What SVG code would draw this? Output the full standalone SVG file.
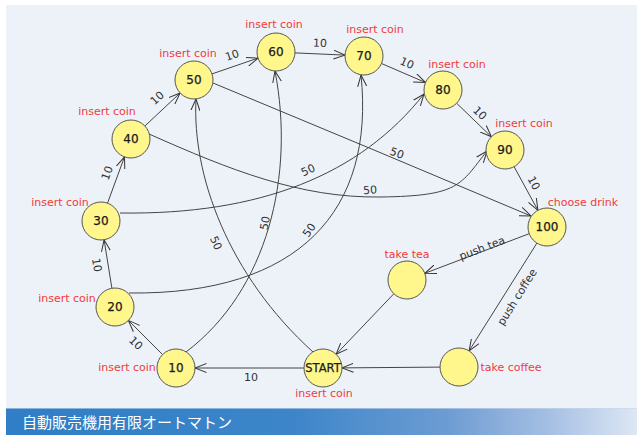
<svg xmlns="http://www.w3.org/2000/svg" width="637" height="435" viewBox="0 0 637 435">
  <defs>
    <linearGradient id="bar" x1="0" y1="0" x2="1" y2="0">
      <stop offset="0" stop-color="#2f7ec6"/>
      <stop offset="0.45" stop-color="#3c85c9"/>
      <stop offset="0.7" stop-color="#6d9cd3"/>
      <stop offset="0.86" stop-color="#a5bfe3"/>
      <stop offset="1" stop-color="#dde7f4"/>
    </linearGradient>
    <marker id="arr" markerUnits="userSpaceOnUse" viewBox="0 0 12 10" refX="11.5" refY="5" markerWidth="12" markerHeight="10" orient="auto">
      <path d="M0,0.5 L11.5,5 L0,9.5" fill="none" stroke="#333" stroke-width="1"/>
    </marker>
    <style>
      .node circle { fill: #fff78c; stroke: #555; stroke-width: 1; }
      .num { font-family: "DejaVu Sans", "Liberation Sans", sans-serif; font-size: 12px; fill: #1a1a1a; stroke: #1a1a1a; stroke-width: 0.25; text-anchor: middle; }
      .st { font-family: "DejaVu Sans", "Liberation Sans", sans-serif; font-size: 11.5px; fill: #1a1a1a; stroke: #1a1a1a; stroke-width: 0.25; text-anchor: middle; }
      .red { font-family: "DejaVu Sans", "Liberation Sans", sans-serif; font-size: 11px; fill: #f23a3a; text-anchor: middle; }
      .edge { fill: none; stroke: #444; stroke-width: 1; marker-end: url(#arr); }
      .lbl { font-family: "DejaVu Sans", "Liberation Sans", sans-serif; font-size: 11px; fill: #333; text-anchor: middle; }
      .title { font-family: "Noto Sans CJK JP", "Noto Sans CJK SC", sans-serif; font-size: 15px; fill: #ffffff; }
    </style>
  </defs>
  <rect x="0" y="0" width="637" height="435" fill="#ffffff"/>
  <rect x="6" y="5" width="631" height="403" fill="#edf2f9"/>
  <rect x="6" y="408" width="631" height="27" fill="url(#bar)"/>
  <rect x="6" y="408" width="631" height="1" fill="#c8d7ea" opacity="0.6"/>
  <text class="title" x="22" y="428">自動販売機用有限オートマトン</text>

  <g id="connectors">
    <path class="edge" d="M304,368 L195,368"/>
    <path class="edge" d="M162.6,354.6 L128.4,320.4"/>
    <path class="edge" d="M111.9,288.2 L104.1,239.8"/>
    <path class="edge" d="M107.5,203.2 L124.5,156.8"/>
    <path class="edge" d="M144.9,126 L180.1,93"/>
    <path class="edge" d="M212,73.9 L258,58.1"/>
    <path class="edge" d="M295,52.9 L345,55.1"/>
    <path class="edge" d="M381.5,63.5 L425.5,82.5"/>
    <path class="edge" d="M456.6,103.2 L491.4,136.8"/>
    <path class="edge" d="M514.1,166.7 L537.9,210.3"/>
    <path class="edge" d="M529.2,233.7 L424.8,273.3"/>
    <path class="edge" d="M536.9,243.1 L469.1,350.9"/>
    <path class="edge" d="M393.9,293.7 L336.1,354.3"/>
    <path class="edge" d="M440,367.1 L342,367.9"/>
    <path class="edge" d="M313,352 C228,275 192,175 196,99"/>
    <path class="edge" d="M186,352 C268,290 295,175 275,71"/>
    <path class="edge" d="M129,293 C300,295 375,210 361,75"/>
    <path class="edge" d="M120,213 C260,215 360,175 424,94"/>
    <path class="edge" d="M149,134 C230,170 300,198 380,197 S460,185 487,151"/>
    <path class="edge" d="M213,83 Q370,148 531,216"/>

    <text class="lbl" transform="translate(251,377)" dy="0.35em">10</text>
    <text class="lbl" transform="translate(136,343) rotate(44)" dy="0.35em">10</text>
    <text class="lbl" transform="translate(97,265) rotate(81)" dy="0.35em">10</text>
    <text class="lbl" transform="translate(107,173) rotate(-70)" dy="0.35em">10</text>
    <text class="lbl" transform="translate(157,98) rotate(-43)" dy="0.35em">10</text>
    <text class="lbl" transform="translate(232,55) rotate(-19)" dy="0.35em">10</text>
    <text class="lbl" transform="translate(320,43) rotate(3)" dy="0.35em">10</text>
    <text class="lbl" transform="translate(407,63) rotate(24)" dy="0.35em">10</text>
    <text class="lbl" transform="translate(480,113) rotate(44)" dy="0.35em">10</text>
    <text class="lbl" transform="translate(534,183) rotate(62)" dy="0.35em">10</text>
    <text class="lbl" transform="translate(482,248) rotate(-21)" dy="0.35em">push tea</text>
    <text class="lbl" transform="translate(517,297) rotate(-58)" dy="0.35em">push coffee</text>
    <text class="lbl" transform="translate(265,223) rotate(-80)" dy="0.35em">50</text>
    <text class="lbl" transform="translate(216,243) rotate(66)" dy="0.35em">50</text>
    <text class="lbl" transform="translate(309,230) rotate(-55)" dy="0.35em">50</text>
    <text class="lbl" transform="translate(308,170) rotate(-25)" dy="0.35em">50</text>
    <text class="lbl" transform="translate(370,190) rotate(-3)" dy="0.35em">50</text>
    <text class="lbl" transform="translate(397,153) rotate(20)" dy="0.35em">50</text>
  </g>

  <g id="n10" class="node"><circle cx="176" cy="368" r="19"/><text class="num" x="176" y="372">10</text><text class="red" x="127" y="371">insert coin</text></g>
  <g id="n20" class="node"><circle cx="115" cy="307" r="19"/><text class="num" x="115" y="311">20</text><text class="red" x="67" y="302">insert coin</text></g>
  <g id="n30" class="node"><circle cx="101" cy="221" r="19"/><text class="num" x="101" y="225">30</text><text class="red" x="60" y="206">insert coin</text></g>
  <g id="n40" class="node"><circle cx="131" cy="139" r="19"/><text class="num" x="131" y="143">40</text><text class="red" x="107" y="115">insert coin</text></g>
  <g id="n50" class="node"><circle cx="194" cy="80" r="19"/><text class="num" x="194" y="84">50</text><text class="red" x="188" y="57">insert coin</text></g>
  <g id="n60" class="node"><circle cx="276" cy="52" r="19"/><text class="num" x="276" y="56">60</text><text class="red" x="274" y="28">insert coin</text></g>
  <g id="n70" class="node"><circle cx="364" cy="56" r="19"/><text class="num" x="364" y="60">70</text><text class="red" x="375" y="33">insert coin</text></g>
  <g id="n80" class="node"><circle cx="443" cy="90" r="19"/><text class="num" x="443" y="94">80</text><text class="red" x="457" y="68">insert coin</text></g>
  <g id="n90" class="node"><circle cx="505" cy="150" r="19"/><text class="num" x="505" y="154">90</text><text class="red" x="524" y="127">insert coin</text></g>
  <g id="n100" class="node"><circle cx="547" cy="227" r="19"/><text class="num" x="547" y="231">100</text><text class="red" x="583" y="206">choose drink</text></g>
  <g id="tea" class="node"><circle cx="407" cy="280" r="19"/><text class="red" x="407" y="258">take tea</text></g>
  <g id="coffee" class="node"><circle cx="459" cy="367" r="19"/><text class="red" x="511" y="371">take coffee</text></g>
  <g id="start" class="node"><circle cx="323" cy="368" r="19"/><text class="st" x="323" y="372">START</text><text class="red" x="324" y="397">insert coin</text></g>
</svg>
